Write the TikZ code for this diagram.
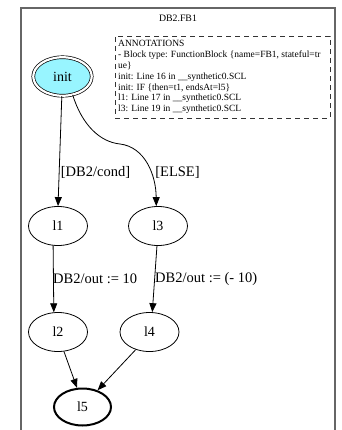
\documentclass[tikz,border=0pt]{standalone}
\usepackage{fontspec}
\setmainfont{Liberation Serif}
\usetikzlibrary{shapes.geometric,arrows.meta}
\definecolor{initfill}{RGB}{152,245,255}
\begin{document}
\begin{tikzpicture}[x=1pt,y=-1pt,
 stnode/.style={ellipse,draw,line width=0.8pt,minimum width=59pt,minimum height=39pt,inner sep=0pt,font=\fontsize{14}{16}\selectfont},
 elabel/.style={font=\fontsize{14.5}{17}\selectfont,inner sep=0pt},
 conn/.style={draw,line width=0.8pt,-{Triangle[length=9pt,width=7pt]}},
]
\useasboundingbox (0,0) rectangle (341,430);
\clip (0,0) rectangle (341,430);
\node[draw=black!60,line width=1.5pt,minimum width=314pt,minimum height=440pt,anchor=north west,inner sep=0pt] (cluster) at (20,7.5) {};
\node[font=\fontsize{9.8}{11}\selectfont,inner sep=0pt] (title) at (178,18) {DB2.FB1};
\node[draw=black!80,dash pattern=on 5pt off 4pt,line width=0.8pt,minimum width=215pt,minimum height=82pt,inner sep=0pt] (annbox) at (222.5,77) {};
\node[anchor=north west,inner sep=0pt,align=left,font=\fontsize{9.5}{10.9}\selectfont] (anntext) at (118,40) {ANNOTATIONS\\- Block type: FunctionBlock \{name=FB1, stateful=tr\\ue\}\\init: Line 16 in \_\_synthetic0.SCL\\init: IF \{then=t1, endsAt=l5\}\\l1: Line 17 in \_\_synthetic0.SCL\\l3: Line 19 in \_\_synthetic0.SCL};

\node[stnode,double,double distance=2.2pt,line width=0.7pt,fill=initfill,minimum width=58.5pt,minimum height=38.5pt] (init) at (62.5,76.5) {init};
\node[stnode] (l1) at (58,226) {l1};
\node[stnode] (l3) at (158,226) {l3};
\node[stnode] (l2) at (58,332) {l2};
\node[stnode] (l4) at (149.5,332) {l4};
\node[stnode,line width=2pt,minimum width=57pt,minimum height=37pt] (l5) at (82.5,407) {l5};

\draw[conn] (init.268) -- (l1.north);
\draw[conn] (init.299) .. controls (82,125) and (100,142) .. (120,144) .. controls (145,147) and (156,175) .. (l3.95);
\draw[conn] (l1.256) -- (l2.102);
\draw[conn] (l3.267) -- (l4.82);
\draw[conn] (l2.287) -- (l5.106);
\draw[conn] (l4.232) -- (l5.48);

\node[elabel] (lcond) at (95.5,172) {[DB2/cond]};
\node[elabel] (lelse) at (177.5,172) {[ELSE]};
\node[elabel,anchor=west] (lout1) at (53,279) {DB2/out := 10};
\node[elabel,anchor=west] (lout2) at (155,279) {DB2/out := (- 10)};
\end{tikzpicture}
\end{document}
